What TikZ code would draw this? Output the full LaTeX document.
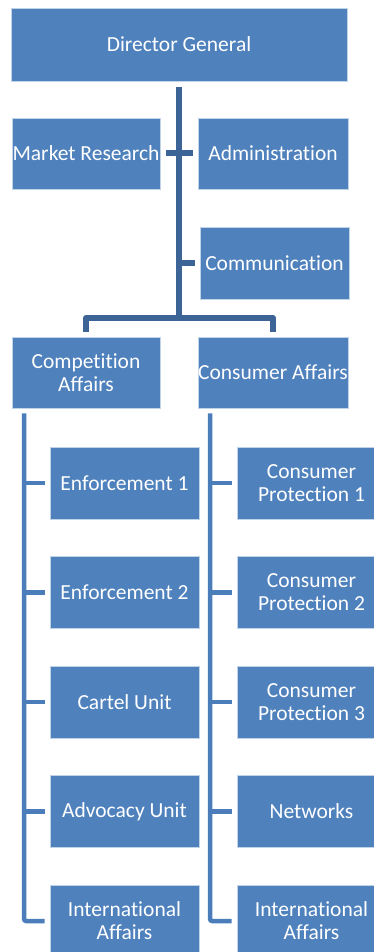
\documentclass[tikz,border=0pt]{standalone}
\usepackage{fontspec}
\setmainfont[Ligatures=NoCommon]{Carlito}
\usepackage{xcolor}
\definecolor{boxblue}{RGB}{79,129,189}
\definecolor{linkdark}{RGB}{60,100,150}
\definecolor{linkblue}{RGB}{74,125,186}

\begin{document}
\begin{tikzpicture}[x=1pt,y=-1pt,
  unit/.style={draw=white!65!boxblue, line width=0.8pt, fill=boxblue, text=white,
    inner sep=0pt, align=center, font=\fontsize{21.5}{23}\selectfont},
  trunk/.style={draw=linkdark, line width=6pt, line join=round},
  branch/.style={draw=linkblue, line width=4.5pt, rounded corners=2pt}]
\useasboundingbox (0,0) rectangle (374,952);

% top of the tree
\node[unit, minimum width=336pt, minimum height=73pt] (dg) at (179,44.5) {Director General};
\node[unit, minimum width=148pt, minimum height=71pt] (mresearch) at (86,153.5) {Market Research};
\node[unit, minimum width=150pt, minimum height=71pt] (admin) at (273,153.5) {Administration};
\node[unit, minimum width=149pt, minimum height=72pt] (comms) at (274.5,263) {Communication};
\node[unit, minimum width=148pt, minimum height=71pt] (compet) at (86,372.5) {Competition\\Affairs};
\node[unit, minimum width=150pt, minimum height=71pt] (consum) at (273,372.5) {Consumer Affairs};

\coordinate (hub) at (179,318);
\draw[trunk] ([yshift=-6pt]dg.south) -- (hub);
\draw[trunk] ([xshift=6pt]mresearch.east) -- ([xshift=-5pt]admin.west);
\draw[trunk] (hub |- comms.west) -- ([xshift=-5pt]comms.west);
\draw[trunk] ([yshift=5pt]compet.north) |- (hub) -| ([yshift=5pt]consum.north);

% the two columns of units
\foreach \t [count=\i] in {Enforcement 1, Enforcement 2, Cartel Unit, Advocacy Unit, {International\\Affairs}}
  \node[unit, minimum width=149pt, minimum height=72pt] (ca\i) at (124.5,373.5+109.5*\i) {\t};
\foreach \t [count=\i] in {{Consumer\\Protection 1}, {Consumer\\Protection 2}, {Consumer\\Protection 3}, Networks, {International\\Affairs}}
  \node[unit, minimum width=149pt, minimum height=72pt] (cp\i) at (311.5,373.5+109.5*\i) {\t};

\draw[branch] ([shift={(12.5pt,-5pt)}]compet.south west) |- ([xshift=-5pt]ca5.west);
\draw[branch] ([shift={(12.5pt,-5pt)}]consum.south west) |- ([xshift=-5pt]cp5.west);
\foreach \i in {1,...,4} {
  \draw[branch] ([xshift=-25.5pt]ca\i.west) -- ([xshift=-5pt]ca\i.west);
  \draw[branch] ([xshift=-26.5pt]cp\i.west) -- ([xshift=-5pt]cp\i.west);
}
\end{tikzpicture}
\end{document}
